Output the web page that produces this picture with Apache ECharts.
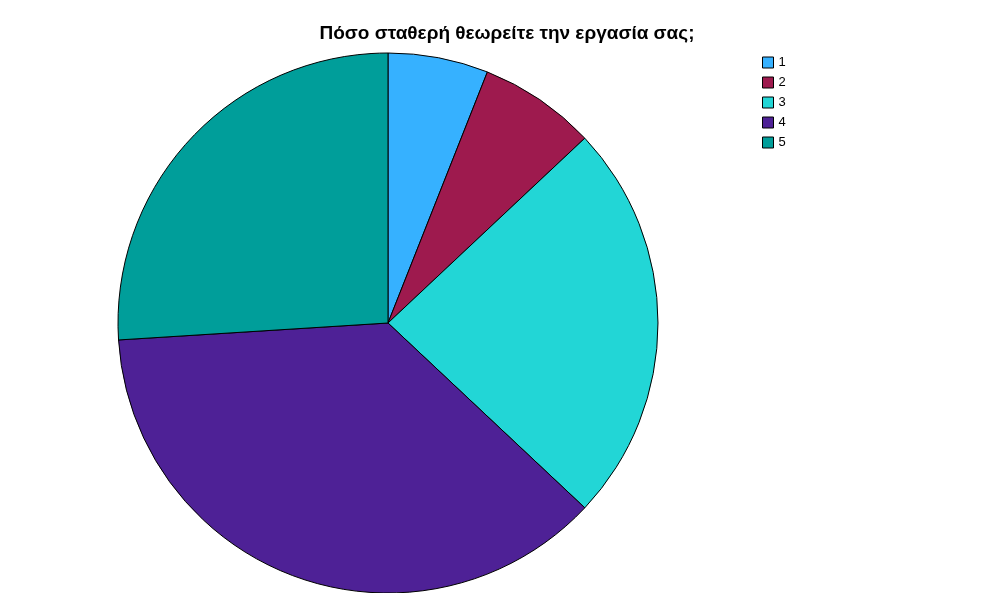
<!DOCTYPE html>
<html>
<head>
<meta charset="utf-8">
<script src="https://cdn.jsdelivr.net/npm/echarts@6/dist/echarts.min.js"></script>
<style>html,body{margin:0;padding:0;background:#fff}#c{width:997px;height:593px}</style>
</head>
<body>
<div id="c"></div>
<script>
const titleText = 'Πόσο σταθερή θεωρείτε την εργασία σας;';
const categories = ['1', '2', '3', '4', '5'];
const values = [6, 7, 24, 37, 26];
const colors = ['#36B1FF', '#9E1A4E', '#22D6D6', '#4E2196', '#009E9A'];

const chart = echarts.init(document.getElementById('c'), null, {renderer: 'canvas'});
chart.setOption({
  animation: false,
  backgroundColor: '#ffffff',
  title: {
    text: titleText,
    left: 507, top: 24, textAlign: 'center', padding: 0,
    textStyle: {fontFamily: 'Liberation Sans, Arial, sans-serif', fontSize: 19, fontWeight: 'bold', color: '#000'}
  },
  legend: {
    orient: 'vertical',
    left: 762, top: 56, padding: 0,
    itemWidth: 11, itemHeight: 11, itemGap: 7,
    icon: 'rect',
    itemStyle: {borderColor: '#000', borderWidth: 1},
    textStyle: {fontFamily: 'Liberation Sans, Arial, sans-serif', fontSize: 13, color: '#000'},
    data: categories
  },
  series: [{
    type: 'pie',
    center: [388, 323],
    radius: 270,
    startAngle: 90,
    clockwise: true,
    label: {show: false},
    labelLine: {show: false},
    emphasis: {disabled: true},
    itemStyle: {borderColor: '#000', borderWidth: 1},
    data: categories.map((c, i) => ({name: c, value: values[i], itemStyle: {color: colors[i]}}))
  }]
});
</script>
</body>
</html>
